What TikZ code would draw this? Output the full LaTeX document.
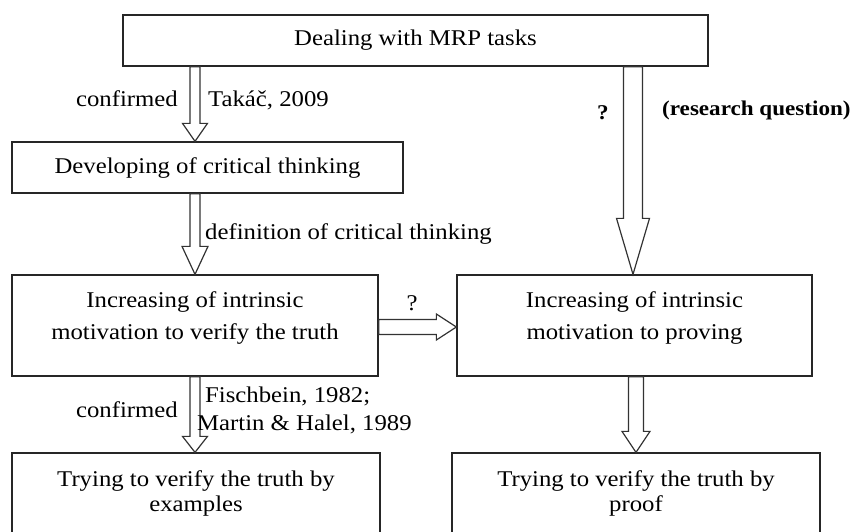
\documentclass[tikz,border=0pt]{standalone}
\usepackage{fontspec}
\setmainfont{Liberation Serif}[FakeStretch=1.1]
\usepackage{tikz}
\usetikzlibrary{calc}

\tikzset{
  box/.style={draw=black!85,line width=1.3pt,rectangle,inner sep=0pt,align=center,
    font=\fontsize{22.5}{32}\selectfont},
  lbl/.style={inner sep=0pt,font=\fontsize{22.5}{27}\selectfont},
  hollow/.style={draw=black!80,fill=white,line width=1.2pt,line join=miter}
}

% hollow down arrow: from, to, x, shaft half, head half, head length
\newcommand{\hollowdown}[6]{%
  \draw[hollow] let \p1=(#1), \p2=(#2) in
    (#3-#4,\y1) -- (#3+#4,\y1) -- (#3+#4,\y2+#6) -- (#3+#5,\y2+#6) -- (#3,\y2)
    -- (#3-#5,\y2+#6) -- (#3-#4,\y2+#6) -- cycle;}
% hollow right arrow: from, to, y, shaft half, head half, head length
\newcommand{\hollowright}[6]{%
  \draw[hollow] let \p1=(#1), \p2=(#2) in
    (\x1,#3-#4) -- (\x1,#3+#4) -- (\x2-#6,#3+#4) -- (\x2-#6,#3+#5) -- (\x2,#3)
    -- (\x2-#6,#3-#5) -- (\x2-#6,#3-#4) -- cycle;}

\begin{document}
\begin{tikzpicture}[x=1pt,y=-1pt]

        \clip (0,0) rectangle (858,531);

        % ------------------------------------------------ boxes
        \node[box,minimum width=585,minimum height=51] (mrp) at (415.5,40.5) {Dealing with MRP tasks};
        \node[box,minimum width=391,minimum height=51] (critical) at (207.5,167.5) {Developing of critical thinking};
        \node[box,minimum width=366,minimum height=101,text depth=20pt] (verify) at (195,325.5)
          {Increasing of intrinsic\\motivation to verify the truth};
        \node[box,minimum width=355,minimum height=101,text depth=20pt] (proving) at (634.5,325.5)
          {Increasing of intrinsic\\motivation to proving};
        \node[box,minimum width=368,minimum height=100,text depth=23pt,
          font=\fontsize{22.5}{25}\selectfont] (examples) at (196,503)
          {Trying to verify the truth by\\examples};
        \node[box,minimum width=368,minimum height=100,text depth=23pt,
          font=\fontsize{22.5}{25}\selectfont] (proof) at (636,503)
          {Trying to verify the truth by\\proof};

        % ------------------------------------------------ arrows
        \hollowdown{mrp.south}{critical.north}{195}{5}{12.5}{18}
        \hollowdown{critical.south}{verify.north}{195}{5}{13}{28}
        \hollowdown{verify.south}{examples.north}{195}{5}{12.5}{16}
        \hollowdown{mrp.south}{proving.north}{633}{9.5}{16.5}{56}
        \hollowdown{proving.south}{proof.north}{636}{7.5}{14}{21}
        \hollowright{verify.east}{proving.west}{327}{7.5}{13}{20}

        % ------------------------------------------------ labels
        \node[lbl,anchor=mid east] (conf1) at (178,104) {confirmed};
        \node[lbl,anchor=mid west] (takac) at (208,104) {Takáč, 2009};
        \node[lbl,anchor=mid west] (defin) at (205,237) {definition of critical thinking};
        \node[lbl,font=\fontsize{21}{25}\selectfont\bfseries] (qright) at (603,113) {?};
        \node[lbl,anchor=mid west,font=\fontsize{21}{25}\selectfont\bfseries] (resq) at (662,113) {(research question)};
        \node[lbl] (qmid) at (412,303) {?};
        \node[lbl,anchor=mid east] (conf2) at (178,415) {confirmed};
        \node[lbl,anchor=mid west] (fisch) at (205,400) {Fischbein, 1982;};
        \node[lbl,anchor=mid west] (martin) at (197,428) {Martin \& Halel, 1989};

\end{tikzpicture}
\end{document}
